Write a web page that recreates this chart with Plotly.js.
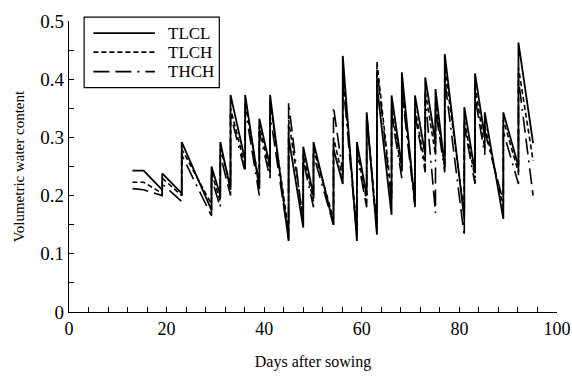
<!DOCTYPE html>
<html>
<head>
<meta charset="utf-8">
<script src="https://cdn.plot.ly/plotly-3.0.1.min.js"></script>
<style>html,body{margin:0;padding:0;background:#fff;}#chart{width:572px;height:376px;}</style>
</head>
<body>
<div id="chart"></div>
<script>
// Irrigation event days (vertical rises) shared by the three treatments
const eventDays = [19.1, 23.1, 29.2, 31.0, 33.1, 36.1, 39.0, 41.2, 45.0, 48.0, 50.1, 54.2, 56.1, 59.0, 61.0, 63.1, 66.1, 68.2, 70.9, 73.0, 75.1, 77.0, 81.0, 83.2, 85.2, 89.0, 92.1];

// TLCL (solid)
const tlclStartDays = [13.0, 15.3];
const tlclStartVals = [0.243, 0.243];
const tlclTroughs = [0.21, 0.204, 0.175, 0.20, 0.21, 0.26, 0.212, 0.25, 0.122, 0.145, 0.20, 0.15, 0.22, 0.122, 0.20, 0.133, 0.167, 0.25, 0.184, 0.27, 0.29, 0.25, 0.16, 0.24, 0.30, 0.16, 0.25];
const tlclPeaks   = [0.238, 0.292, 0.25, 0.292, 0.373, 0.373, 0.332, 0.373, 0.30, 0.284, 0.292, 0.28, 0.44, 0.292, 0.343, 0.39, 0.372, 0.412, 0.372, 0.403, 0.383, 0.443, 0.352, 0.41, 0.343, 0.343, 0.463];
const tlclEnd = [95.1, 0.29];

// TLCH (short dash)
const tlchStartDays = [13.0, 15.3];
const tlchStartVals = [0.223, 0.223];
const tlchTroughs = [0.204, 0.20, 0.185, 0.19, 0.22, 0.25, 0.22, 0.24, 0.14, 0.16, 0.19, 0.16, 0.23, 0.14, 0.19, 0.15, 0.20, 0.24, 0.19, 0.25, 0.27, 0.25, 0.17, 0.23, 0.28, 0.18, 0.24];
const tlchPeaks   = [0.23, 0.28, 0.24, 0.28, 0.35, 0.36, 0.32, 0.36, 0.33, 0.27, 0.28, 0.30, 0.41, 0.28, 0.33, 0.43, 0.35, 0.39, 0.35, 0.38, 0.36, 0.42, 0.33, 0.39, 0.32, 0.33, 0.42];
const tlchEnd = [95.1, 0.26];

// THCH (long dash - dot)
const thchStartDays = [13.0, 15.3];
const thchStartVals = [0.212, 0.21];
const thchTroughs = [0.20, 0.19, 0.165, 0.18, 0.20, 0.24, 0.20, 0.23, 0.125, 0.15, 0.18, 0.15, 0.24, 0.13, 0.18, 0.14, 0.19, 0.23, 0.18, 0.24, 0.17, 0.24, 0.13, 0.22, 0.27, 0.19, 0.22];
const thchPeaks   = [0.22, 0.27, 0.23, 0.27, 0.34, 0.35, 0.31, 0.34, 0.36, 0.26, 0.27, 0.352, 0.40, 0.27, 0.34, 0.42, 0.34, 0.38, 0.34, 0.37, 0.35, 0.40, 0.32, 0.37, 0.31, 0.31, 0.40];
const thchEnd = [95.1, 0.20];

const seriesNames = ['TLCL', 'TLCH', 'THCH'];

function build(startDays, startVals, troughs, peaks, end) {
  const x = startDays.slice(), y = startVals.slice();
  eventDays.forEach((d, i) => { x.push(d, d); y.push(troughs[i], peaks[i]); });
  x.push(end[0]); y.push(end[1]);
  return {x, y};
}

const s1 = build(tlclStartDays, tlclStartVals, tlclTroughs, tlclPeaks, tlclEnd);
const s2 = build(tlchStartDays, tlchStartVals, tlchTroughs, tlchPeaks, tlchEnd);
const s3 = build(thchStartDays, thchStartVals, thchTroughs, thchPeaks, thchEnd);

const serif = 'Liberation Serif, Times New Roman, serif';
const lineStyles = [
  {color: '#000', width: 1.8, dash: 'solid'},
  {color: '#000', width: 1.6, dash: '5px,3px'},
  {color: '#000', width: 1.6, dash: '16px,6px,16px,6px,2px,6px'}
];
const series = [s1, s2, s3];
const traces = series.map((s, i) => ({
  x: s.x, y: s.y, name: seriesNames[i], mode: 'lines', line: lineStyles[i], showlegend: false
}));

// Legend drawn as a boxed key in paper coordinates
const legendRowsY = [0.958, 0.893, 0.826];
const shapes = [{
  type: 'rect', xref: 'paper', yref: 'paper', x0: 0.031, x1: 0.308, y0: 0.771, y1: 1.013,
  line: {color: '#000', width: 1.2}, fillcolor: '#fff', layer: 'above'
}];
const annotations = [];
seriesNames.forEach((n, i) => {
  shapes.push({type: 'line', xref: 'paper', yref: 'paper', x0: 0.050, x1: 0.176,
    y0: legendRowsY[i], y1: legendRowsY[i], line: lineStyles[i], layer: 'above'});
  annotations.push({xref: 'paper', yref: 'paper', x: 0.198, y: legendRowsY[i], xanchor: 'left', yanchor: 'middle',
    text: n, showarrow: false, font: {family: serif, size: 17, color: '#000'}});
});

const axisCommon = {
  showline: true, linecolor: '#000', linewidth: 1.2,
  showgrid: false, zeroline: false,
  ticks: 'inside', ticklen: 5, tickcolor: '#000', tickwidth: 1,
  tickfont: {family: serif, size: 18, color: '#000'}
};

const layout = {
  width: 572, height: 376,
  margin: {l: 69, r: 15, t: 21, b: 64},
  paper_bgcolor: '#fff', plot_bgcolor: '#fff',
  font: {family: serif, color: '#000'},
  showlegend: false,
  xaxis: Object.assign({}, axisCommon, {
    range: [0, 100], dtick: 20, tick0: 0,
    minor: {dtick: 4, ticks: 'inside', ticklen: 5, tickcolor: '#000'},
    title: {text: 'Days after sowing', font: {family: serif, size: 16, color: '#000'}, standoff: 18}
  }),
  yaxis: Object.assign({}, axisCommon, {
    range: [0, 0.5], dtick: 0.1, tick0: 0,
    tickfont: {family: serif, size: 19, color: '#000'},
    minor: {dtick: 0.05, ticks: 'inside', ticklen: 5, tickcolor: '#000'},
    title: {text: 'Volumetric water content', font: {family: serif, size: 15, color: '#000'}, standoff: 12}
  }),
  shapes: shapes,
  annotations: annotations
};

Plotly.newPlot('chart', traces, layout, {staticPlot: true, displayModeBar: false});
</script>
</body>
</html>
